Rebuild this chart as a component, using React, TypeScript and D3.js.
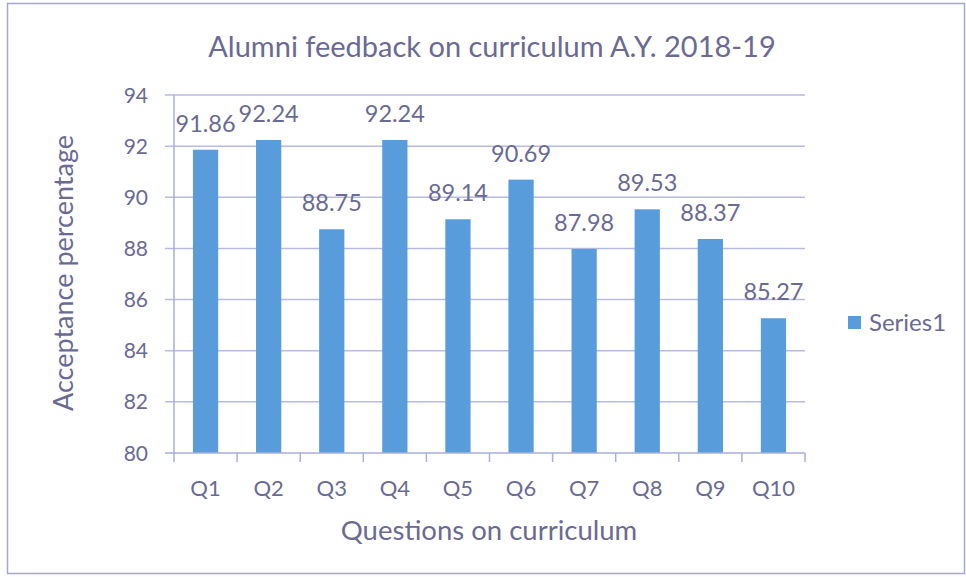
import React, { useEffect, useRef } from "react";
import * as d3 from "d3";

const categories = ["Q1", "Q2", "Q3", "Q4", "Q5", "Q6", "Q7", "Q8", "Q9", "Q10"];
const values = [91.86, 92.24, 88.75, 92.24, 89.14, 90.69, 87.98, 89.53, 88.37, 85.27];
const yTicks = [80, 82, 84, 86, 88, 90, 92, 94];
const seriesName = "Series1";
const titleText = "Alumni feedback on curriculum A.Y. 2018-19";
const xTitle = "Questions on curriculum";
const yTitle = "Acceptance percentage";

const W = 966;
const H = 577;
const FONT = "Lato, 'Open Sans', sans-serif";
const TEXT = "#6a6a94";
const BAR = "#589cdc";
const GRID = "#b7bbe2";
const AXIS = "#a9aedc";

export default function App() {
  const ref = useRef<SVGSVGElement>(null);

  useEffect(() => {
    const svg = d3.select(ref.current);
    svg.selectAll("*").remove();

    const x = d3.scaleBand<string>().domain(categories).range([174, 805]).paddingInner(0.6).paddingOuter(0.3);
    const xb = d3.scaleBand<string>().domain(categories).range([174, 805]);
    const y = d3.scaleLinear().domain([80, 94]).range([453, 95]);

    svg.append("rect").attr("x", 0).attr("y", 0).attr("width", W).attr("height", H).attr("fill", "#ffffff");
    svg.append("rect").attr("x", 7.5).attr("y", 3.5).attr("width", 957).attr("height", 570)
      .attr("fill", "none").attr("stroke", "#a6a6d4").attr("stroke-width", 1.5);

    // title
    svg.append("text").attr("x", 492).attr("y", 57).attr("text-anchor", "middle")
      .attr("font-family", FONT).attr("font-size", 29).attr("fill", TEXT).text(titleText);

    // gridlines
    svg.append("g").selectAll("line").data(yTicks.filter(d => d !== 80)).join("line")
      .attr("x1", 165).attr("x2", 805)
      .attr("y1", d => y(d)).attr("y2", d => y(d))
      .attr("stroke", GRID).attr("stroke-width", 1.5);

    // y axis line and ticks
    svg.append("line").attr("x1", 174).attr("x2", 174).attr("y1", y(94)).attr("y2", y(80))
      .attr("stroke", AXIS).attr("stroke-width", 1.5);
    svg.append("line").attr("x1", 165).attr("x2", 174).attr("y1", y(80)).attr("y2", y(80))
      .attr("stroke", AXIS).attr("stroke-width", 1.5);

    // y tick labels
    svg.append("g").selectAll("text").data(yTicks).join("text")
      .attr("x", 148).attr("y", d => y(d)).attr("dy", "0.36em").attr("text-anchor", "end")
      .attr("font-family", FONT).attr("font-size", 21).attr("fill", TEXT)
      .text(d => String(d));

    // bars
    svg.append("g").selectAll("rect").data(values).join("rect")
      .attr("x", (d, i) => x(categories[i])!)
      .attr("width", x.bandwidth())
      .attr("y", d => y(d))
      .attr("height", d => y(80) - y(d))
      .attr("fill", BAR);

    // x axis
    svg.append("line").attr("x1", 174).attr("x2", 805).attr("y1", y(80)).attr("y2", y(80))
      .attr("stroke", AXIS).attr("stroke-width", 1.5);
    const tickXs = categories.map(c => xb(c)!).concat([805]);
    svg.append("g").selectAll("line").data(tickXs).join("line")
      .attr("x1", d => d).attr("x2", d => d).attr("y1", y(80)).attr("y2", y(80) + 9)
      .attr("stroke", AXIS).attr("stroke-width", 1.5);

    // x tick labels
    svg.append("g").selectAll("text").data(categories).join("text")
      .attr("x", d => xb(d)! + xb.bandwidth() / 2).attr("y", 496).attr("text-anchor", "middle")
      .attr("font-family", FONT).attr("font-size", 22).attr("fill", TEXT)
      .text(d => d);

    // data labels
    svg.append("g").selectAll("text").data(values).join("text")
      .attr("x", (d, i) => xb(categories[i])! + xb.bandwidth() / 2)
      .attr("y", d => y(d) - 18).attr("text-anchor", "middle")
      .attr("font-family", FONT).attr("font-size", 23.5).attr("fill", TEXT)
      .text(d => d.toFixed(2));

    // axis titles
    svg.append("text").attr("x", 489).attr("y", 540).attr("text-anchor", "middle")
      .attr("font-family", FONT).attr("font-size", 27.5).attr("fill", TEXT).text(xTitle);
    svg.append("text").attr("transform", "translate(73,273) rotate(-90)").attr("text-anchor", "middle")
      .attr("font-family", FONT).attr("font-size", 27).attr("fill", TEXT).text(yTitle);

    // legend
    svg.append("rect").attr("x", 848).attr("y", 316).attr("width", 13).attr("height", 13).attr("fill", BAR);
    svg.append("text").attr("x", 869).attr("y", 331)
      .attr("font-family", FONT).attr("font-size", 24).attr("fill", TEXT).text(seriesName);
  }, []);

  return (
    <svg ref={ref} width={W} height={H} style={{ position: "absolute", left: 0, top: 0, display: "block" }} />
  );
}
